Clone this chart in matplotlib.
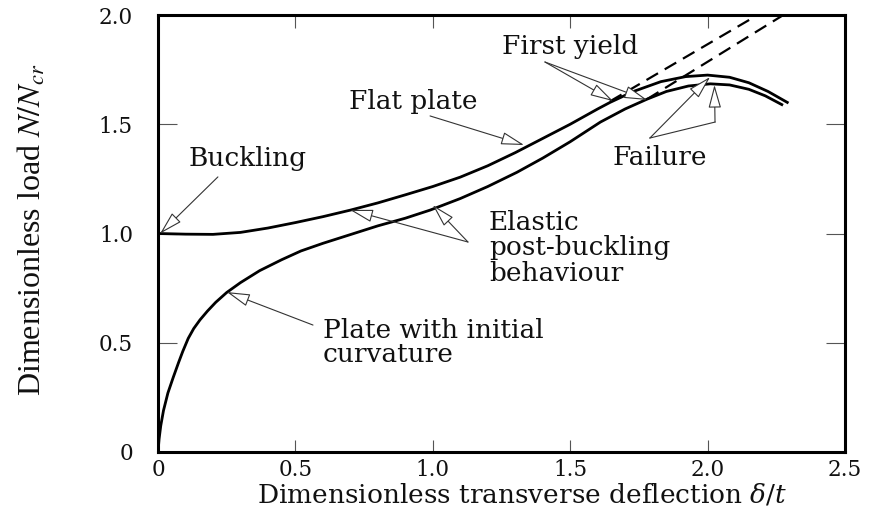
import matplotlib
matplotlib.use("Agg")
import matplotlib.pyplot as plt

# flat plate: elastic post-buckling path, then plastic fall-off after first yield
flat_x = [0, 0.1, 0.2, 0.3, 0.4, 0.5, 0.6, 0.7, 0.8, 0.9, 1.0, 1.1, 1.2, 1.3, 1.4, 1.5,
          1.6, 1.645, 1.73, 1.83, 1.92, 2.0, 2.08, 2.15, 2.22, 2.29]
flat_y = [1.0, 0.997, 0.996, 1.005, 1.025, 1.05, 1.077, 1.107, 1.14, 1.177, 1.215, 1.258,
          1.31, 1.37, 1.435, 1.50, 1.57, 1.60, 1.65, 1.695, 1.718, 1.725, 1.715, 1.69, 1.65, 1.60]

# plate with initial curvature
curv_x = [0, 0.004, 0.01, 0.02, 0.036, 0.055, 0.075, 0.09, 0.11, 0.13, 0.153, 0.18, 0.21,
          0.25, 0.30, 0.37, 0.45, 0.52, 0.60, 0.70, 0.80, 0.90, 0.99, 1.10, 1.20, 1.306,
          1.40, 1.5, 1.61, 1.70, 1.78, 1.85, 1.93, 2.01, 2.08, 2.15, 2.21, 2.27]
curv_y = [0, 0.06, 0.12, 0.19, 0.27, 0.34, 0.41, 0.46, 0.52, 0.565, 0.605, 0.645, 0.685,
          0.73, 0.775, 0.83, 0.88, 0.92, 0.955, 0.995, 1.035, 1.07, 1.107, 1.16, 1.215, 1.28,
          1.345, 1.42, 1.51, 1.57, 1.615, 1.65, 1.675, 1.685, 1.68, 1.66, 1.63, 1.59]

# elastic continuation beyond first yield (dashed)
flat_dash_x = [1.645, 2.25]
flat_dash_y = [1.605, 2.05]
curv_dash_x = [1.78, 2.34]
curv_dash_y = [1.615, 2.05]

x_ticks = [0, 0.5, 1.0, 1.5, 2.0, 2.5]
x_labels = ["0", "0.5", "1.0", "1.5", "2.0", "2.5"]
y_ticks = [0, 0.5, 1.0, 1.5, 2.0]
y_labels = ["0", "0.5", "1.0", "1.5", "2.0"]

plt.rcParams["mathtext.fontset"] = "custom"
plt.rcParams["mathtext.rm"] = "DejaVu Serif"
plt.rcParams["mathtext.it"] = "DejaVu Serif:italic"

SERIF = "DejaVu Serif"
INK = "#111111"
ARROW = dict(arrowstyle="-|>,head_length=0.8,head_width=0.22", fc="white", ec="#333333",
             lw=0.8, mutation_scale=18, shrinkA=0, shrinkB=0)

fig = plt.figure(figsize=(8.81, 5.19), dpi=100)
ax = fig.add_axes([158 / 881, 67 / 519, 687 / 881, 437 / 519])

ax.plot(flat_x, flat_y, color="black", lw=2.0, solid_joinstyle="round")
ax.plot(curv_x, curv_y, color="black", lw=2.0, solid_joinstyle="round")
ax.plot(flat_dash_x, flat_dash_y, color="black", lw=1.6, linestyle=(0, (6, 3.5)))
ax.plot(curv_dash_x, curv_dash_y, color="black", lw=1.6, linestyle=(0, (6, 3.5)))

ax.set_xlim(0, 2.5)
ax.set_ylim(0, 2.0)
ax.set_xticks(x_ticks)
ax.set_xticklabels(x_labels, family=SERIF, fontsize=15.5)
ax.set_yticks(y_ticks)
ax.set_yticklabels(y_labels, family=SERIF, fontsize=15.5)
ax.tick_params(axis="x", direction="in", length=9, width=0.8, color="#555555",
               top=True, bottom=True, pad=5, labelcolor=INK)
ax.tick_params(axis="y", direction="in", length=14, width=0.8, color="#555555",
               left=True, right=True, pad=18, labelcolor=INK)
for s in ax.spines.values():
    s.set_linewidth(2.2)

ax.set_xlabel(r"Dimensionless transverse deflection $\delta/t$", family=SERIF,
              fontsize=19, color=INK, va="center")
ax.xaxis.set_label_coords(0.53, -0.097)
ax.set_ylabel(r"Dimensionless load $N/N_{cr}$", family="Liberation Serif",
              fontsize=23, color=INK, va="center", math_fontfamily="stix")
ax.yaxis.set_label_coords(-0.183, 0.508)

txt = dict(family=SERIF, fontsize=19, color=INK)

# Buckling
ax.text(0.3275, 1.3455, "Buckling", ha="center", va="center", **txt)
ax.annotate("", xy=(0.008, 1.0), xytext=(0.218, 1.259), arrowprops=ARROW)

# Flat plate
ax.text(0.928, 1.606, "Flat plate", ha="center", va="center", **txt)
ax.annotate("", xy=(1.332, 1.405), xytext=(0.99, 1.538), arrowprops=ARROW)

# First yield
ax.text(1.499, 1.854, "First yield", ha="center", va="center", **txt)
ax.annotate("", xy=(1.656, 1.606), xytext=(1.408, 1.785), arrowprops=ARROW)
ax.annotate("", xy=(1.78, 1.611), xytext=(1.408, 1.785), arrowprops=ARROW)

# Failure
ax.text(1.827, 1.35, "Failure", ha="center", va="center", **txt)
ax.annotate("", xy=(2.009, 1.716), xytext=(1.79, 1.437), arrowprops=ARROW)
ax.plot([1.79, 2.027], [1.437, 1.51], color="#333333", lw=0.8)
ax.annotate("", xy=(2.025, 1.68), xytext=(2.027, 1.51), arrowprops=ARROW)

# Elastic post-buckling behaviour
ax.text(1.2045, 1.0526, "Elastic", ha="left", va="center", **txt)
ax.text(1.2045, 0.934, "post-buckling", ha="left", va="center", **txt)
ax.text(1.2045, 0.819, "behaviour", ha="left", va="center", **txt)
ax.annotate("", xy=(0.699, 1.108), xytext=(1.128, 0.961), arrowprops=ARROW)
ax.annotate("", xy=(1.0, 1.130), xytext=(1.128, 0.961), arrowprops=ARROW)

# Plate with initial curvature
ax.text(0.6004, 0.558, "Plate with initial", ha="left", va="center", **txt)
ax.text(0.6004, 0.444, "curvature", ha="left", va="center", **txt)
ax.annotate("", xy=(0.251, 0.732), xytext=(0.564, 0.581), arrowprops=ARROW)

fig.savefig("out.png", dpi=100, facecolor="white")
